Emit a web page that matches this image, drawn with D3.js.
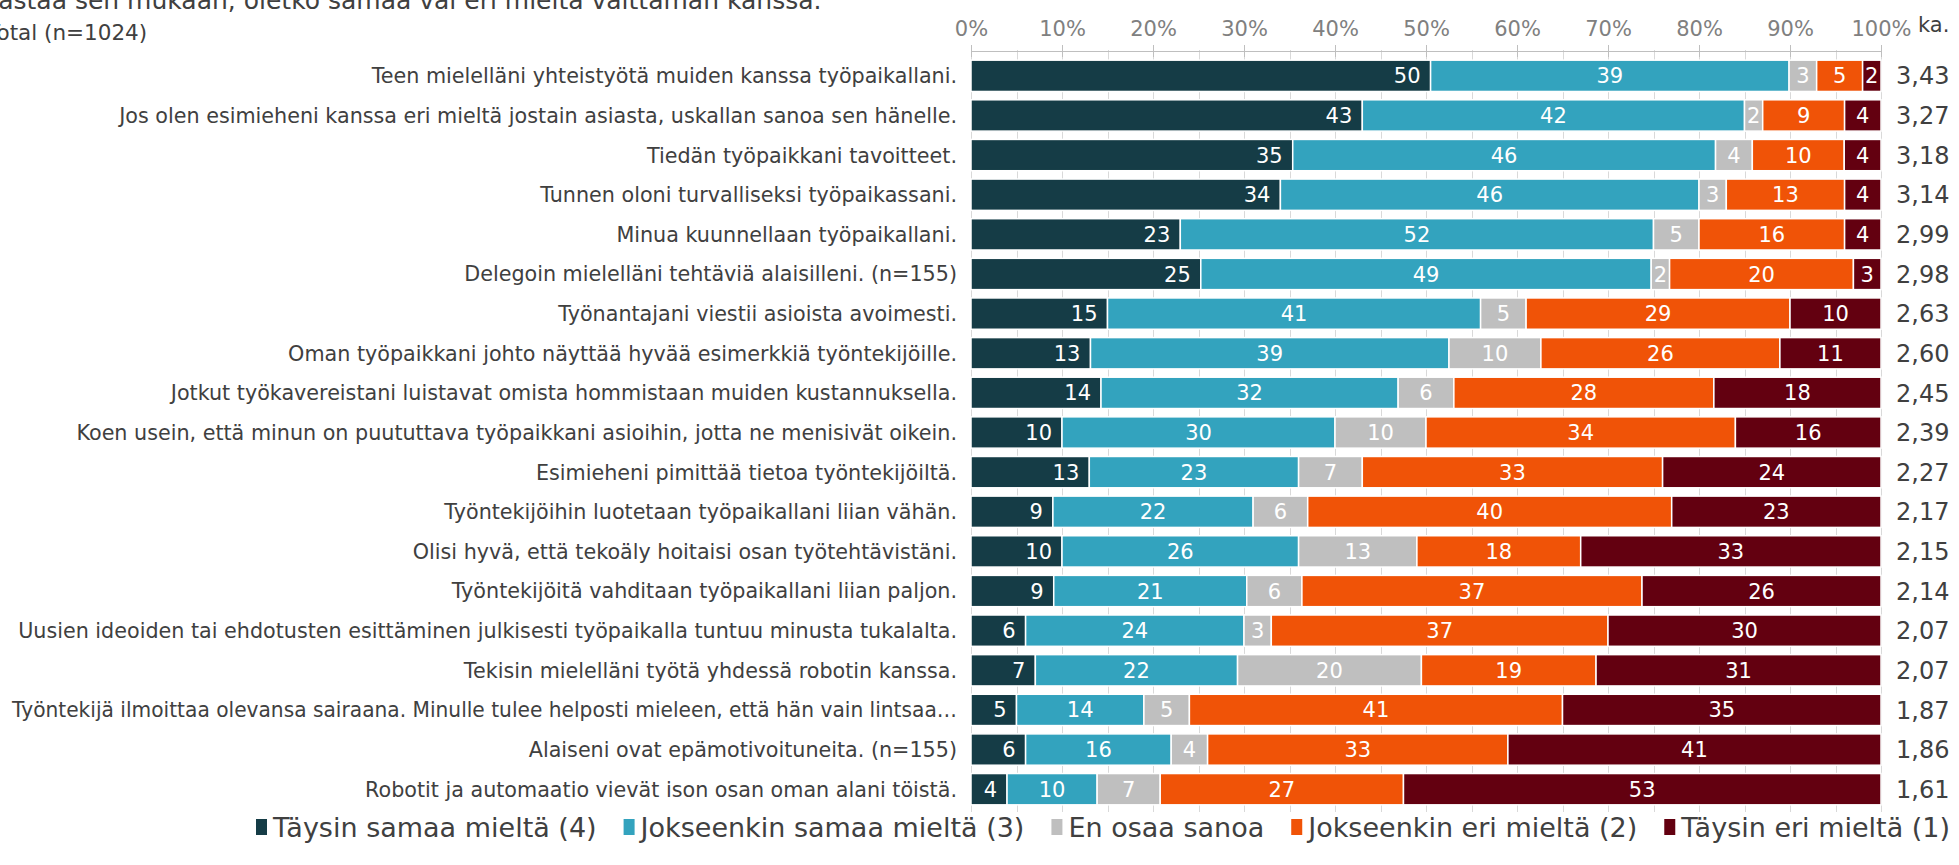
<!DOCTYPE html>
<html>
<head>
<meta charset="utf-8">
<script src="https://cdn.jsdelivr.net/npm/d3@7"></script>
<style>
  body { margin: 0; background: #fff; overflow: hidden; }
  svg { display: block; font-family: "DejaVu Sans", Verdana, sans-serif; }
</style>
</head>
<body>
<div id="chart"></div>
<script>
// statements, top to bottom
const statements = [
  'Teen mielelläni yhteistyötä muiden kanssa työpaikallani.',
  'Jos olen esimieheni kanssa eri mieltä jostain asiasta, uskallan sanoa sen hänelle.',
  'Tiedän työpaikkani tavoitteet.',
  'Tunnen oloni turvalliseksi työpaikassani.',
  'Minua kuunnellaan työpaikallani.',
  'Delegoin mielelläni tehtäviä alaisilleni. (n=155)',
  'Työnantajani viestii asioista avoimesti.',
  'Oman työpaikkani johto näyttää hyvää esimerkkiä työntekijöille.',
  'Jotkut työkavereistani luistavat omista hommistaan muiden kustannuksella.',
  'Koen usein, että minun on puututtava työpaikkani asioihin, jotta ne menisivät oikein.',
  'Esimieheni pimittää tietoa työntekijöiltä.',
  'Työntekijöihin luotetaan työpaikallani liian vähän.',
  'Olisi hyvä, että tekoäly hoitaisi osan työtehtävistäni.',
  'Työntekijöitä vahditaan työpaikallani liian paljon.',
  'Uusien ideoiden tai ehdotusten esittäminen julkisesti työpaikalla tuntuu minusta tukalalta.',
  'Tekisin mielelläni työtä yhdessä robotin kanssa.',
  'Työntekijä ilmoittaa olevansa sairaana. Minulle tulee helposti mieleen, että hän vain lintsaa…',
  'Alaiseni ovat epämotivoituneita. (n=155)',
  'Robotit ja automaatio vievät ison osan oman alani töistä.'
]

const taysinSamaa     = [50, 43, 35, 34, 23, 25, 15, 13, 14, 10, 13,  9, 10,  9,  6,  7,  5,  6,  4]
const jokseenkinSamaa = [39, 42, 46, 46, 52, 49, 41, 39, 32, 30, 23, 22, 26, 21, 24, 22, 14, 16, 10]
const enOsaaSanoa     = [ 3,  2,  4,  3,  5,  2,  5, 10,  6, 10,  7,  6, 13,  6,  3, 20,  5,  4,  7]
const jokseenkinEri   = [ 5,  9, 10, 13, 16, 20, 29, 26, 28, 34, 33, 40, 18, 37, 37, 19, 41, 33, 27]
const taysinEri       = [ 2,  4,  4,  4,  4,  3, 10, 11, 18, 16, 24, 23, 33, 26, 30, 31, 35, 41, 53]

const averages = ['3,43', '3,27', '3,18', '3,14', '2,99', '2,98', '2,63', '2,60', '2,45', '2,39',
  '2,27', '2,17', '2,15', '2,14', '2,07', '2,07', '1,87', '1,86', '1,61']

const seriesNames = ['Täysin samaa mieltä (4)', 'Jokseenkin samaa mieltä (3)', 'En osaa sanoa',
  'Jokseenkin eri mieltä (2)', 'Täysin eri mieltä (1)']
const seriesColors = ['#153c46', '#33a3be', '#bfbfbf', '#f05307', '#630010']

const tickLabels = ['0%', '10%', '20%', '30%', '40%', '50%', '60%', '70%', '80%', '90%', '100%']

const width = 1959
const height = 865

let svg = d3.select('#chart').append('svg')
  .attr('width', width)
  .attr('height', height)

// title lines, clipped at the left / top edge like the original crop
svg.append('text')
  .attr('x', -17).attr('y', 9)
  .style('font-size', '25px').style('fill', '#404040')
  .text('Vastaa sen mukaan, oletko samaa vai eri mieltä väittämän kanssa.')
svg.append('text')
  .attr('x', -13).attr('y', 40)
  .style('font-size', '21.5px').style('fill', '#404040')
  .text('Total (n=1024)')

let table = statements.map((s, i) => ({
  statement: s,
  s0: taysinSamaa[i],
  s1: jokseenkinSamaa[i],
  s2: enOsaaSanoa[i],
  s3: jokseenkinEri[i],
  s4: taysinEri[i]
}))
let keys = ['s0', 's1', 's2', 's3', 's4']

let stacked = d3.stack().keys(keys).offset(d3.stackOffsetExpand)(table)

let x = d3.scaleLinear().domain([0, 1]).range([971, 1881])
let y = d3.scaleBand().domain(statements).range([56, 809])
  .paddingInner(0.21).paddingOuter(0.105)

// gridlines every 5 %
let gridVals = d3.range(0, 1.0001, 0.05)
svg.append('g').selectAll('line').data(gridVals).enter().append('line')
  .attr('x1', d => Math.round(x(d)) + 0.5)
  .attr('x2', d => Math.round(x(d)) + 0.5)
  .attr('y1', 50)
  .attr('y2', 812)
  .attr('stroke', '#d9d9d9')
  .attr('stroke-width', 1)

// top axis
let axis = d3.axisTop(x)
  .tickValues(d3.range(0, 1.0001, 0.1))
  .tickFormat((d, i) => tickLabels[i])
  .tickSize(7)
  .tickSizeOuter(0)
let axisG = svg.append('g')
  .attr('transform', 'translate(0,51)')
  .call(axis)
axisG.select('.domain').attr('stroke', '#bfbfbf')
axisG.selectAll('.tick line').attr('stroke', '#bfbfbf').attr('y2', 6).attr('y1', -6)
axisG.selectAll('.tick text')
  .attr('y', -15)
  .style('font-family', '"DejaVu Sans", Verdana, sans-serif')
  .style('font-size', '21px')
  .style('fill', '#808080')

svg.append('text')
  .attr('x', 1918).attr('y', 32)
  .style('font-size', '21px').style('fill', '#404040')
  .text('ka.')

// bars
let layers = svg.append('g').selectAll('g').data(stacked).enter().append('g')
  .attr('fill', (d, i) => seriesColors[i])

layers.selectAll('rect').data(d => d).enter().append('rect')
  .attr('x', d => x(d[0]))
  .attr('width', d => x(d[1]) - x(d[0]))
  .attr('y', d => y(d.data.statement))
  .attr('height', y.bandwidth())
  .attr('stroke', '#ffffff')
  .attr('stroke-width', 1.5)

// segment labels
layers.each(function (layer, li) {
  d3.select(this).selectAll('text').data(layer).enter().append('text')
    .attr('x', d => li === 0 ? x(d[1]) - 10 : (x(d[0]) + x(d[1])) / 2)
    .attr('y', d => y(d.data.statement) + y.bandwidth() / 2)
    .attr('dy', '0.36em')
    .attr('text-anchor', li === 0 ? 'end' : 'middle')
    .style('font-size', '21px')
    .style('fill', '#ffffff')
    .text(d => d.data[layer.key])
})

// statement labels
let maxLabel = 945
svg.append('g').selectAll('text').data(statements).enter().append('text')
  .attr('x', 957)
  .attr('y', d => y(d) + y.bandwidth() / 2)
  .attr('dy', '0.36em')
  .attr('text-anchor', 'end')
  .style('font-size', '20.7px')
  .style('fill', '#404040')
  .text(d => d)
  .each(function () {
    if (this.getComputedTextLength() > maxLabel) {
      d3.select(this).attr('textLength', maxLabel).attr('lengthAdjust', 'spacingAndGlyphs')
    }
  })

// averages
svg.append('g').selectAll('text').data(averages).enter().append('text')
  .attr('x', 1896)
  .attr('y', (d, i) => y(statements[i]) + y.bandwidth() / 2)
  .attr('dy', '0.36em')
  .style('font-size', '24px')
  .style('fill', '#404040')
  .text(d => d)

// legend
let legend = svg.append('g')
let lx = 256
seriesNames.forEach((name, i) => {
  legend.append('rect')
    .attr('x', lx).attr('y', 819)
    .attr('width', 11).attr('height', 16)
    .attr('fill', seriesColors[i])
  let t = legend.append('text')
    .attr('x', lx + 17).attr('y', 827)
    .attr('dy', '0.36em')
    .style('font-size', '27px')
    .style('fill', '#404040')
    .text(name)
  lx = lx + 17 + t.node().getComputedTextLength() + 27
})
</script>
</body>
</html>
